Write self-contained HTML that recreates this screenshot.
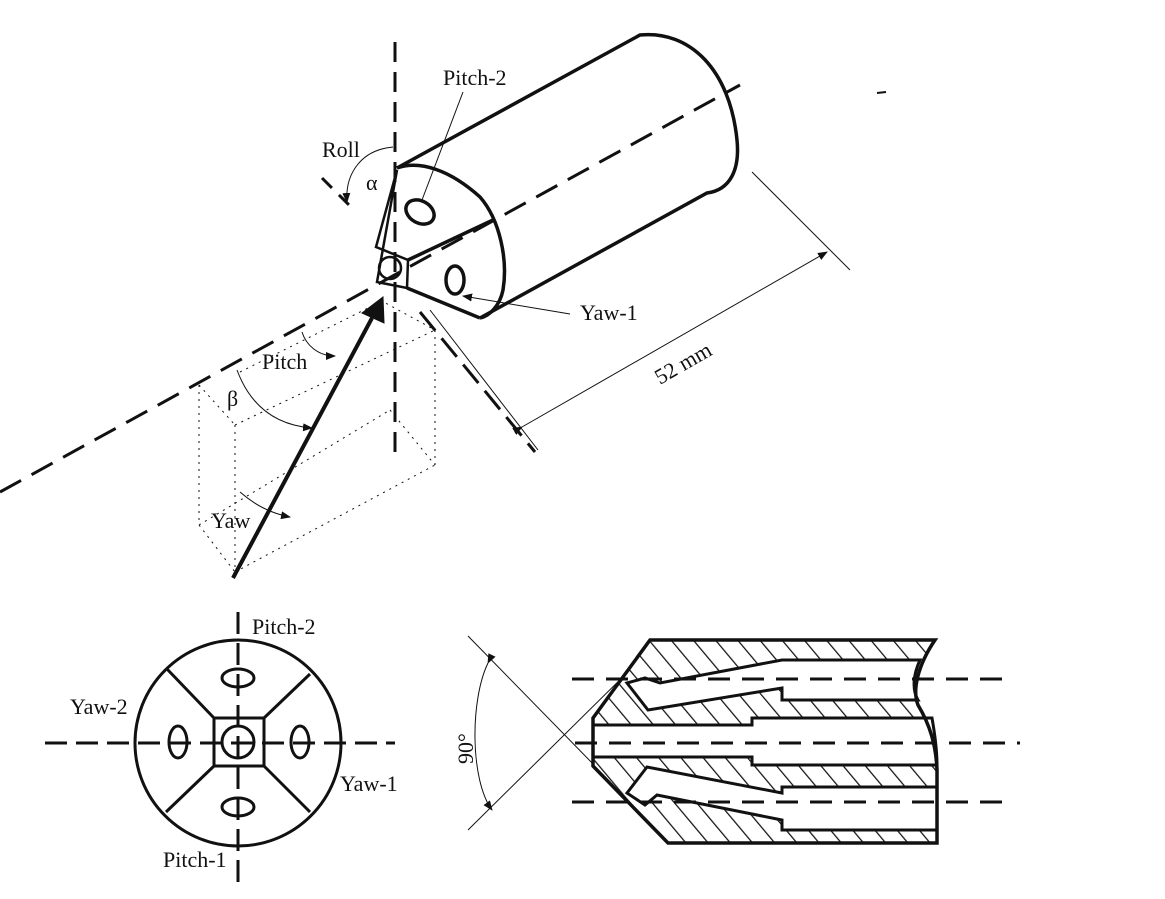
<!DOCTYPE html>
<html><head><meta charset="utf-8"><style>
html,body{margin:0;padding:0;background:#fff}
svg{display:block}
text{font-family:"Liberation Serif",serif;fill:#111}
</style></head><body>
<svg width="1165" height="899" viewBox="0 0 1165 899" xmlns="http://www.w3.org/2000/svg">
<defs>
<pattern id="h" width="17" height="17" patternUnits="userSpaceOnUse" patternTransform="rotate(-40)">
<line x1="0" y1="0" x2="0" y2="17" stroke="#111" stroke-width="2.5"/>
</pattern>
<marker id="a" markerWidth="10" markerHeight="8" refX="9" refY="4" orient="auto" markerUnits="userSpaceOnUse"><path d="M0,0 L10,4 L0,8 z" fill="#111"/></marker>
</defs>
<g fill="none" stroke="#111">
<line x1="395" y1="42" x2="395" y2="462" stroke-width="3" stroke-dasharray="20,10"/>
<line x1="0" y1="492" x2="740" y2="85" stroke-width="3" stroke-dasharray="24,12"/>
<line x1="322" y1="178" x2="352" y2="208" stroke-width="3" stroke-dasharray="14,10"/>
<line x1="420" y1="312" x2="535" y2="452" stroke-width="3" stroke-dasharray="24,10"/>
<g stroke-width="1" stroke-dasharray="2,5">
<line x1="199" y1="385" x2="199" y2="525"/>
<line x1="235" y1="425" x2="235" y2="572"/>
<line x1="435" y1="330" x2="435" y2="465"/>
<line x1="199" y1="385" x2="235" y2="425"/>
<line x1="235" y1="425" x2="435" y2="330"/>
<line x1="235" y1="572" x2="435" y2="465"/>
<line x1="199" y1="525" x2="235" y2="572"/>
<line x1="199" y1="525" x2="390" y2="410"/>
<line x1="390" y1="410" x2="435" y2="465"/>
<line x1="380" y1="300" x2="435" y2="330"/>
<line x1="240" y1="372" x2="380" y2="302"/>
</g>
<g stroke-width="3.5">
<path d="M397,168 L640,35 C690,30 730,70 737,140 C740,170 730,190 707,193 L480,318"/>
<path d="M397,168 C420,160 450,170 480,197 C500,220 508,260 503,290 C500,305 490,316 480,318"/>
<path d="M397,170 L376,247 L408,260 L407,288 L377,282 Z" stroke-width="2.5"/>
<path d="M408,260 L493,220"/>
<path d="M407,288 L480,318"/>
<ellipse cx="420" cy="212" rx="15" ry="11" transform="rotate(30 420 212)"/>
<ellipse cx="455" cy="280" rx="9" ry="14"/>
<circle cx="390" cy="268" r="11" stroke-width="2.5"/>
</g>
<line x1="463" y1="92" x2="422" y2="200" stroke-width="1"/>
<line x1="570" y1="314" x2="463" y2="296" stroke-width="1" marker-end="url(#a)"/>
<path d="M393,147 C360,150 345,175 347,202" stroke-width="1" marker-end="url(#a)"/>
<line x1="752" y1="172" x2="850" y2="270" stroke-width="1"/>
<line x1="430" y1="310" x2="538" y2="450" stroke-width="1"/>
<line x1="522" y1="427" x2="827" y2="252" stroke-width="1" marker-end="url(#a)" marker-start="url(#a)"/>
<line x1="233" y1="578" x2="372" y2="318" stroke-width="4"/>
<path d="M383,297 L384,323 L362,313 Z" fill="#111"/>
<path d="M302,332 C306,345 318,356 335,356" stroke-width="1" marker-end="url(#a)"/>
<path d="M237,370 C250,405 275,425 312,428" stroke-width="1" marker-end="url(#a)"/>
<path d="M240,492 C255,505 270,513 290,517" stroke-width="1" marker-end="url(#a)"/>
<line x1="877" y1="93" x2="886" y2="92" stroke-width="2"/>

<line x1="238" y1="612" x2="238" y2="885" stroke-width="3" stroke-dasharray="22,9"/>
<line x1="45" y1="743" x2="395" y2="743" stroke-width="3" stroke-dasharray="22,9"/>
<g stroke-width="3">
<circle cx="238" cy="743" r="103"/>
<rect x="214" y="718" width="50" height="48"/>
<circle cx="238" cy="742" r="16"/>
<line x1="214" y1="718" x2="167" y2="669"/>
<line x1="264" y1="718" x2="310" y2="674"/>
<line x1="214" y1="766" x2="166" y2="812"/>
<line x1="264" y1="766" x2="310" y2="812"/>
<ellipse cx="238" cy="678" rx="16" ry="9"/>
<ellipse cx="238" cy="807" rx="16" ry="9"/>
<ellipse cx="178" cy="742" rx="9" ry="16"/>
<ellipse cx="300" cy="742" rx="9" ry="16"/>
</g>

<line x1="468" y1="636" x2="640" y2="812" stroke-width="1"/>
<line x1="468" y1="830" x2="640" y2="660" stroke-width="1"/>
<path d="M488,663 C470,700 470,780 492,810" stroke-width="1" marker-end="url(#a)" marker-start="url(#a)"/>
<path d="M593,718 L650,640 L935,640 C918,665 912,690 918,705 C930,725 936,745 937,770 L937,843 L668,843 L593,766 Z" fill="#fff" stroke="none"/>
<path d="M593,718 L650,640 L935,640 C918,665 912,690 918,705 C930,725 936,745 937,770 L937,843 L668,843 L593,766 Z" fill="url(#h)" stroke="none"/>
<g fill="#fff" stroke-width="3">
<path d="M593,725 L752,725 L752,718 L932,718 C935,735 937,750 937,765 L752,765 L752,757 L593,757 Z"/>
<path d="M627,683 L645,678 L660,683 L782,660 L920,660 C913,675 912,690 918,700 L782,700 L782,688 L648,710 Z"/>
<path d="M627,793 L647,767 L782,793 L782,787 L937,787 L937,830 L782,830 L782,820 L657,795 L645,805 Z"/>
</g>
<path d="M593,718 L650,640 L935,640 C918,665 912,690 918,705 C930,725 936,745 937,770 L937,843 L668,843 L593,766 Z" stroke-width="3.5"/>
<g stroke-width="3" stroke-dasharray="22,12">
<line x1="572" y1="679" x2="1002" y2="679"/>
<line x1="575" y1="743" x2="1020" y2="743"/>
<line x1="572" y1="802" x2="1002" y2="802"/>
</g>
</g>
<g font-size="22">
<text x="443" y="85">Pitch-2</text>
<text x="322" y="157">Roll</text>
<text x="366" y="190">α</text>
<text x="580" y="320">Yaw-1</text>
<text x="262" y="369">Pitch</text>
<text x="227" y="406">β</text>
<text x="211" y="528">Yaw</text>
<text transform="translate(660,385) rotate(-30)">52 mm</text>
<text x="252" y="634">Pitch-2</text>
<text x="70" y="714">Yaw-2</text>
<text x="340" y="791">Yaw-1</text>
<text x="163" y="867">Pitch-1</text>
<text transform="translate(473,764) rotate(-90)">90°</text>
</g>
</svg>
</body></html>
